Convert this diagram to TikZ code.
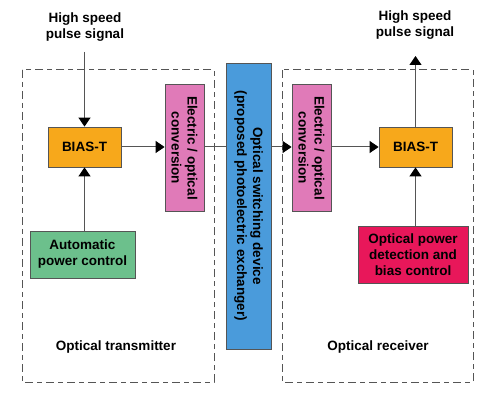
\documentclass[tikz,border=0pt]{standalone}
\usepackage{fontspec}
\setmainfont{Liberation Sans}
\usetikzlibrary{arrows.meta}
\definecolor{biasor}{HTML}{F7A81B}
\definecolor{eopink}{HTML}{E07AB8}
\definecolor{swblue}{HTML}{4A9BDB}
\definecolor{apcgreen}{HTML}{6CC08C}
\definecolor{detred}{HTML}{E8175A}
\definecolor{linegray}{HTML}{555555}
\begin{document}
\begin{tikzpicture}[x=1pt,y=-1pt,
  txt/.style={font=\bfseries\fontsize{13.5}{16}\selectfont, align=center, inner sep=0pt},
  blk/.style={draw=linegray, line width=0.8pt, inner sep=0pt, font=\bfseries\fontsize{13.5}{16}\selectfont, align=center},
  conn/.style={draw=linegray, line width=1pt},
  arr/.style={conn, -{Triangle[length=9pt,width=12pt,color=black]}},
  frame/.style={draw=linegray, line width=1pt, dash pattern=on 8pt off 4pt on 5pt off 4pt}
]
\useasboundingbox (0,0) rectangle (500,403);
% frames
\draw[frame] (22,70) rectangle (214,382);
\draw[frame] (282,70) rectangle (473,382);
% blocks
\node[blk, fill=biasor, minimum width=73pt, minimum height=40pt] (biasL) at (84.5,147) {BIAS-T};
\node[blk, fill=biasor, minimum width=73pt, minimum height=40pt] (biasR) at (415.5,147) {BIAS-T};
\node[blk, fill=eopink, minimum width=39pt, minimum height=127pt] (eoL) at (184.5,148) {};
\node[rotate=-90, txt] at (eoL) {Electric / optical\\conversion};
\node[blk, fill=eopink, minimum width=39pt, minimum height=127pt] (eoR) at (311.5,148) {};
\node[rotate=-90, txt] at (eoR) {Electric / optical\\conversion};
\node[blk, fill=swblue, minimum width=45pt, minimum height=286pt] (sw) at (248.5,206) {};
\node[rotate=-90, txt] at (sw) {Optical switching device\\(proposed photoelectric exchanger)};
\node[blk, fill=apcgreen, minimum width=105pt, minimum height=47pt] (apc) at (82.5,254.5) {Automatic\\power control};
\node[blk, fill=detred, minimum width=110pt, minimum height=57pt] (det) at (413,254.5) {Optical power\\detection and\\bias control};
% texts
\node[txt] (hsL) at (85,27) {High speed\\pulse signal};
\node[txt] (hsR) at (415,25) {High speed\\pulse signal};
\node[txt] (tx) at (116,347) {Optical transmitter};
\node[txt] (rx) at (378,347) {Optical receiver};
% connectors
\coordinate (inL) at (84.5,52);
\coordinate (outR) at (415.5,56);
\draw[arr] (inL) -- (biasL.north);
\draw[arr] (apc.north -| biasL) -- (biasL.south);
\draw[arr] (biasL.east) -- (eoL.west |- biasL.east);
\draw[conn] (eoL.east |- biasL.east) -- (sw.west |- biasL.east);
\draw[arr] (sw.east |- biasR.west) -- (eoR.west |- biasR.west);
\draw[arr] (eoR.east |- biasR.west) -- (biasR.west);
\draw[arr] (det.north -| biasR) -- (biasR.south);
\draw[arr] (biasR.north) -- (outR);
\end{tikzpicture}
\end{document}
